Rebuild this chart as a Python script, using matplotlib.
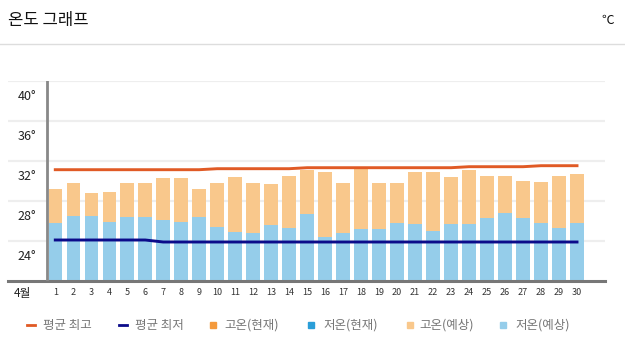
import matplotlib
matplotlib.use('Agg')
import matplotlib.pyplot as plt
import matplotlib.transforms as mtransforms
from matplotlib.lines import Line2D
from matplotlib.patches import Rectangle

plt.rcParams['font.family'] = ['Noto Sans CJK KR', 'DejaVu Sans']

# ---- data ----
days = list(range(1, 31))
day_labels = [str(d) for d in days]
month_label = '4월'
title = '온도 그래프'
unit = '℃'
y_ticks = [24, 28, 32, 36, 40]
y_tick_labels = ['24°', '28°', '32°', '36°', '40°']

high_forecast = [29.2, 29.8, 28.8, 28.9, 29.8, 29.8, 30.3, 30.3, 29.2, 29.8,
                 30.4, 29.8, 29.7, 30.5, 31.1, 30.9, 29.8, 31.25, 29.8, 29.8,
                 30.9, 30.9, 30.4, 31.1, 30.5, 30.5, 30.0, 29.9, 30.5, 30.7]
low_forecast = [25.8, 26.5, 26.5, 25.9, 26.4, 26.4, 26.1, 25.9, 26.4, 25.4,
                24.9, 24.8, 25.6, 25.3, 26.7, 24.35, 24.8, 25.2, 25.2, 25.8,
                25.7, 25.0, 25.7, 25.7, 26.3, 26.8, 26.3, 25.8, 25.3, 25.8]
avg_high = [31.1, 31.1, 31.1, 31.1, 31.1, 31.1, 31.1, 31.1, 31.1, 31.2,
            31.2, 31.2, 31.2, 31.2, 31.3, 31.3, 31.3, 31.3, 31.3, 31.3,
            31.3, 31.3, 31.3, 31.4, 31.4, 31.4, 31.4, 31.5, 31.5, 31.5]
avg_low = [24.07, 24.07, 24.07, 24.07, 24.07, 24.07, 23.87, 23.87, 23.87, 23.87,
           23.87, 23.87, 23.87, 23.87, 23.87, 23.87, 23.87, 23.87, 23.87, 23.87,
           23.87, 23.87, 23.87, 23.87, 23.87, 23.87, 23.87, 23.87, 23.87, 23.87]

legend_labels = ['평균 최고', '평균 최저', '고온(현재)', '저온(현재)', '고온(예상)', '저온(예상)']

# ---- style ----
C_HIGH_LINE = '#E05A25'
C_LOW_LINE = '#0B0B8A'
C_HIGH_NOW = '#F49A3C'
C_LOW_NOW = '#2A9ED8'
C_HIGH_FC = '#F9C88C'
C_LOW_FC = '#95CDEA'

W, H = 625, 355
fig = plt.figure(figsize=(W / 100, H / 100), dpi=100)

ax = fig.add_axes([8 / W, (H - 280.7) / H, 597 / W, 200 / H])
ax.set_xlim(-1.628, 31.556)
ax.set_ylim(20, 40)
for s in ax.spines.values():
    s.set_visible(False)

ax.set_yticks(y_ticks)
ax.set_yticklabels([])
ax.tick_params(axis='y', length=0)
ax.grid(axis='y', color='#eeeeee', lw=1.6)
ax.set_axisbelow(True)

# bars
ax.bar(days, high_forecast, width=0.75, color=C_HIGH_FC, zorder=2)
ax.bar(days, low_forecast, width=0.75, color=C_LOW_FC, zorder=3)

# lines
ax.plot(days, avg_high, color=C_HIGH_LINE, lw=2.1, zorder=4)
ax.plot(days, avg_low, color=C_LOW_LINE, lw=2.1, zorder=4)

# axes lines
ax.axhline(20, color='#777777', lw=2.2, zorder=5, clip_on=False)
ax.axvline(0.539, color='#888888', lw=2, zorder=5)

# y labels (shifted below their gridlines)
tr = mtransforms.offset_copy(ax.get_yaxis_transform(), fig=fig, y=-16, units='dots')
for v, lab in zip(y_ticks, y_tick_labels):
    ax.text((36 - 8) / 597, v, lab, transform=tr, ha='right', va='center',
            fontsize=9, color='#222222')

# x labels
ax.set_xticks(days)
ax.set_xticklabels(day_labels, fontsize=6.5, color='#333333')
ax.tick_params(axis='x', length=0, pad=5)
fig.text(22 / W, 1 - 293 / H, month_label, ha='center', va='center',
         fontsize=8.5, color='#222222')

# title area
fig.text(8 / W, 1 - 20 / H, title, ha='left', va='center', fontsize=12, color='#111111')
fig.text(614 / W, 1 - 20 / H, unit, ha='right', va='center', fontsize=9, color='#111111')
fig.add_artist(Line2D([0, 1], [1 - 44 / H, 1 - 44 / H], color='#dddddd', lw=1,
                      transform=fig.transFigure))

# legend
ly = 1 - 325 / H
legend_items = [
    ('line', C_HIGH_LINE, 31, 43),
    ('line', C_LOW_LINE, 122.5, 135),
    ('sq', C_HIGH_NOW, 212.5, 224),
    ('sq', C_LOW_NOW, 310.5, 323),
    ('sq', C_HIGH_FC, 409.5, 419),
    ('sq', C_LOW_FC, 503, 515),
]
for (kind, col, mx, tx), lab in zip(legend_items, legend_labels):
    if kind == 'line':
        fig.add_artist(Line2D([(mx - 4) / W, (mx + 4) / W], [ly, ly], color=col, lw=2,
                              transform=fig.transFigure))
    else:
        fig.add_artist(Rectangle(((mx - 3) / W, ly - 3 / H), 6 / W, 6 / H, color=col,
                                 transform=fig.transFigure))
    fig.text(tx / W, ly, lab, ha='left', va='center', fontsize=9, color='#777777')

fig.savefig('out.png', dpi=100)
